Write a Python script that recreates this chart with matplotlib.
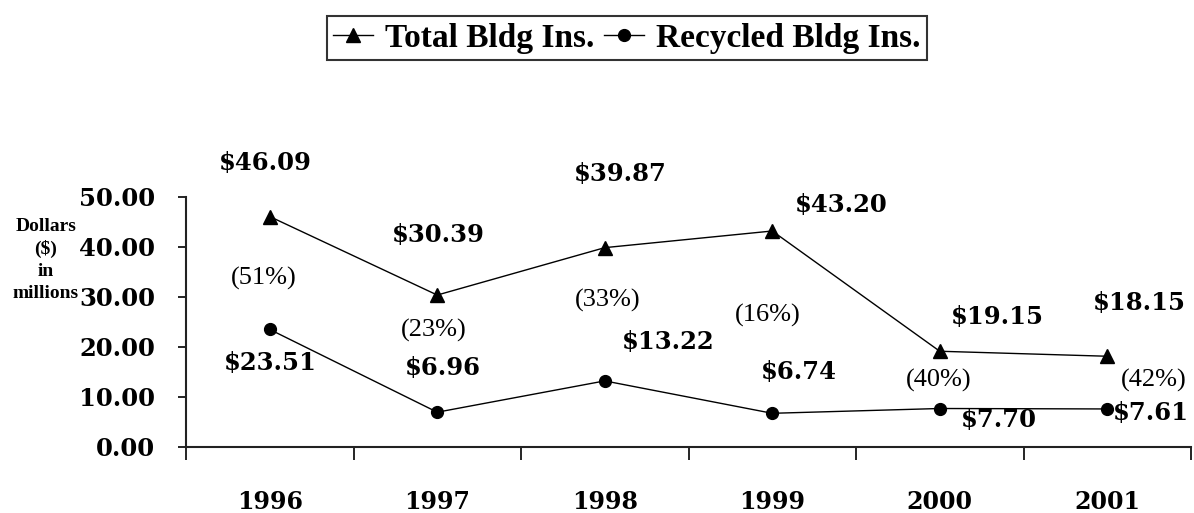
import matplotlib
matplotlib.use("Agg")
import matplotlib.pyplot as plt

years = ["1996", "1997", "1998", "1999", "2000", "2001"]
total = [46.09, 30.39, 39.87, 43.20, 19.15, 18.15]
recycled = [23.51, 6.96, 13.22, 6.74, 7.70, 7.61]
percents = ["(51%)", "(23%)", "(33%)", "(16%)", "(40%)", "(42%)"]
yticks = [0, 10, 20, 30, 40, 50]

# label offsets (pixels) relative to the points
total_off = [(-4, 54), (1, 60), (16, 74), (69, 26), (58, 34), (32, 53)]
pct_off = [(-6, -62), (-4, -35), (3, -53), (-4, -84), (-1, -29), (46, -24)]
rec_off = [(1, -34), (6, 44), (63, 39), (27, 41), (59, -12), (44, -4)]

plt.rcParams['font.family'] = ['Liberation Serif', 'DejaVu Serif']
NUM = ['DejaVu Serif']

fig = plt.figure(figsize=(11.94, 5.13), dpi=100)
ax = fig.add_axes([186/1194, 1-447/513, (1191-186)/1194, (447-197)/513])

x = list(range(len(years)))
l1, = ax.plot(x, total, color='black', lw=1.0, marker='^', markersize=10,
              label='Total Bldg Ins.')
l2, = ax.plot(x, recycled, color='black', lw=1.0, marker='o', markersize=8.5,
              label='Recycled Bldg Ins.')

ax.set_xlim(-0.5, len(years) - 0.5)
ax.set_ylim(0, 50)
for s in ['top', 'right']:
    ax.spines[s].set_visible(False)
for s in ['left', 'bottom']:
    ax.spines[s].set_linewidth(1.5)
    ax.spines[s].set_color('#222222')

ax.set_yticks(yticks)
ax.set_yticklabels([f"{v:.2f}" for v in yticks], fontsize=17.5, fontweight='bold',
                   family=NUM)
ax.tick_params(axis='y', direction='out', length=6, width=1.2, pad=16)

ax.set_xticks(x)
ax.set_xticklabels(years, fontsize=17, fontweight='bold', family=NUM)
ax.tick_params(axis='x', which='major', length=0, pad=31)
ax.set_xticks([i - 0.5 for i in range(len(years) + 1)], minor=True)
ax.tick_params(axis='x', which='minor', direction='out', length=9, width=1.2)

for i in x:
    ax.annotate(f"${total[i]:.2f}", (i, total[i]), xytext=total_off[i],
                textcoords='offset pixels', ha='center', va='center',
                fontsize=17.5, fontweight='bold', family=NUM)
    ax.annotate(percents[i], (i, total[i]), xytext=pct_off[i],
                textcoords='offset pixels', ha='center', va='center',
                fontsize=19)
    ax.annotate(f"${recycled[i]:.2f}", (i, recycled[i]), xytext=rec_off[i],
                textcoords='offset pixels', ha='center', va='center',
                fontsize=17.5, fontweight='bold', family=NUM)

fig.text(46/1194, 1-260/513, "Dollars\n($)\nin\nmillions", ha='center', va='center',
         fontsize=14, fontweight='bold', linespacing=1.35)

leg = fig.legend(handles=[l1, l2], loc='center', bbox_to_anchor=(627/1194, 1-38/513),
                 ncol=2, frameon=True, fancybox=False,
                 handlelength=1.2, handletextpad=0.35, columnspacing=0.3,
                 borderpad=0.2, borderaxespad=0,
                 prop={'weight': 'bold', 'size': 24})
leg.get_frame().set_edgecolor('black')
leg.get_frame().set_linewidth(1.5)

fig.savefig("out.png", dpi=100)
